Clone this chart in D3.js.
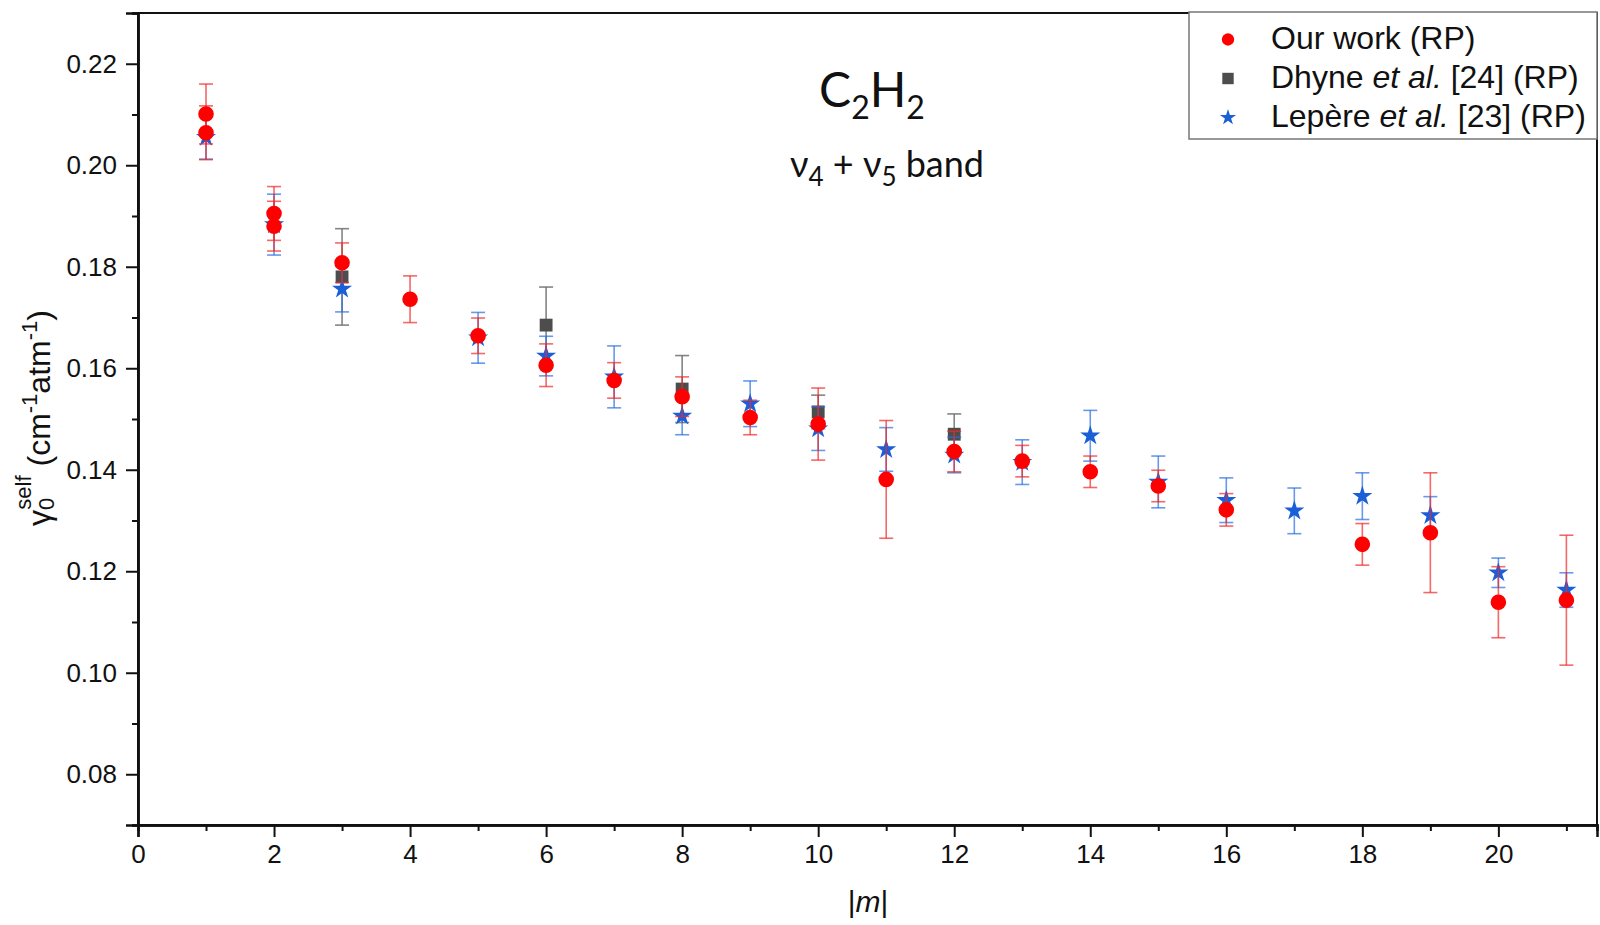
<!DOCTYPE html>
<html>
<head>
<meta charset="utf-8">
<script src="https://cdn.jsdelivr.net/npm/d3@7"></script>
<style>
  body { margin: 0; background: #fff; }
  svg { display: block; }
  .tick-label { font-family: "Liberation Sans", Arial, sans-serif; font-size: 26px; fill: #111; }
</style>
</head>
<body>
<div id="chart"></div>
<script>
// data
const mOur = [1, 1, 2, 2, 3, 4, 5, 6, 7, 8, 9, 10, 11, 12, 13, 14, 15, 16, 18, 19, 20, 21];
const gammaOur = [0.2101, 0.2064, 0.1905, 0.1880, 0.1808, 0.1736, 0.1664, 0.1606, 0.1576, 0.1544, 0.1503,
  0.1490, 0.1381, 0.1436, 0.1417, 0.1396, 0.1368, 0.1321, 0.1253, 0.1276, 0.1139, 0.1143];
const errOur = [0.0059, 0.0053, 0.0053, 0.0049, 0.0039, 0.0046, 0.0035, 0.0042, 0.0035, 0.0039, 0.0034,
  0.0071, 0.0116, 0.0040, 0.0031, 0.0031, 0.0031, 0.0032, 0.0041, 0.0118, 0.0070, 0.0128];

const mDhyne = [3, 6, 8, 10, 12];
const gammaDhyne = [0.1780, 0.1685, 0.1559, 0.1514, 0.1470];
const errDhyne = [0.0095, 0.0075, 0.0066, 0.0033, 0.0040];

const mLepere = [1, 2, 3, 5, 6, 7, 8, 9, 10, 11, 12, 13, 14, 15, 16, 17, 18, 19, 20, 21];
const gammaLepere = [0.2055, 0.1883, 0.1756, 0.1660, 0.1624, 0.1583, 0.1506, 0.1530, 0.1481, 0.1440,
  0.1429, 0.1415, 0.1467, 0.1376, 0.1340, 0.1319, 0.1348, 0.1310, 0.1197, 0.1163];
const errLepere = [0.0043, 0.0060, 0.0045, 0.0050, 0.0039, 0.0061, 0.0037, 0.0045, 0.0043, 0.0043,
  0.0035, 0.0044, 0.0050, 0.0051, 0.0044, 0.0045, 0.0046, 0.0037, 0.0029, 0.0034];

const xMajor = d3.range(0, 21, 2);
const xMinor = d3.range(1, 22, 2);
const yMajor = [0.08, 0.10, 0.12, 0.14, 0.16, 0.18, 0.20, 0.22];
const yMinor = [0.07, 0.09, 0.11, 0.13, 0.15, 0.17, 0.19, 0.21, 0.23];

const width = 1600, height = 925;
const plotL = 138, plotR = 1597, plotT = 13, plotB = 825;

let svg = d3.select('#chart').append('svg')
  .attr('width', width)
  .attr('height', height);

let x = d3.scaleLinear().domain([0, 21.45]).range([plotL, plotR]);
let y = d3.scaleLinear().domain([0.07, 0.23]).range([plotB, plotT]);

// frame
svg.append('rect')
  .attr('x', plotL).attr('y', plotT)
  .attr('width', plotR - plotL).attr('height', plotB - plotT)
  .attr('fill', 'none').attr('stroke', '#111').attr('stroke-width', 2);

// axes
let xAxis = svg.append('g').attr('transform', 'translate(0,' + plotB + ')');
xAxis.call(d3.axisBottom(x).tickValues(xMajor).tickSize(12).tickPadding(8).tickFormat(d3.format('d')));
xAxis.append('g').call(d3.axisBottom(x).tickValues(xMinor).tickSize(6).tickFormat(''));

let yAxis = svg.append('g').attr('transform', 'translate(' + plotL + ',0)');
yAxis.call(d3.axisLeft(y).tickValues(yMajor).tickSize(12).tickPadding(9).tickFormat(d3.format('.2f')));
yAxis.append('g').call(d3.axisLeft(y).tickValues(yMinor).tickSize(6).tickFormat(''));

svg.selectAll('.domain').attr('stroke', '#111').attr('stroke-width', 2.5);
svg.selectAll('.tick line').attr('stroke', '#111').attr('stroke-width', 2);
svg.selectAll('.tick text').attr('class', 'tick-label').attr('fill', '#111');

// series
function series(ms, vals, errs, opt) {
  const rows = ms.map((m, i) => ({m: m, v: vals[i], e: errs[i]}));
  let g = svg.append('g');
  let bars = g.selectAll('.eb').data(rows).enter().append('g')
    .attr('stroke', opt.bar).attr('stroke-width', 1.6).attr('fill', 'none');
  bars.append('line')
    .attr('x1', d => x(d.m)).attr('x2', d => x(d.m))
    .attr('y1', d => y(d.v + d.e)).attr('y2', d => y(d.v - d.e));
  [1, -1].forEach(function (s) {
    bars.append('line')
      .attr('x1', d => x(d.m) - 7).attr('x2', d => x(d.m) + 7)
      .attr('y1', d => y(d.v + s * d.e)).attr('y2', d => y(d.v + s * d.e));
  });
  g.selectAll('.mk').data(rows).enter().append('path')
    .attr('d', d3.symbol().type(opt.shape).size(opt.size))
    .attr('transform', d => 'translate(' + x(d.m) + ',' + y(d.v) + ')')
    .attr('fill', opt.fill);
}

series(mDhyne, gammaDhyne, errDhyne, {shape: d3.symbolSquare, size: 165, fill: '#4d4d4d', bar: 'rgba(110,110,110,0.85)'});
series(mLepere, gammaLepere, errLepere, {shape: d3.symbolStar, size: 125, fill: '#1a5fd8', bar: 'rgba(40,110,225,0.7)'});
series(mOur, gammaOur, errOur, {shape: d3.symbolCircle, size: Math.PI * 7.8 * 7.8, fill: '#ff0000', bar: 'rgba(240,40,40,0.7)'});

// axis titles
svg.append('text')
  .attr('x', 868).attr('y', 912)
  .attr('text-anchor', 'middle')
  .style('font-family', '"Liberation Sans", Arial, sans-serif')
  .style('font-size', '30px')
  .attr('fill', '#111')
  .call(t => {
    t.append('tspan').text('|');
    t.append('tspan').style('font-style', 'italic').text('m');
    t.append('tspan').text('|');
  });

let yTitle = svg.append('text')
  .attr('transform', 'translate(50,418) rotate(-90)')
  .attr('text-anchor', 'middle')
  .style('font-family', '"Liberation Sans", Arial, sans-serif')
  .style('font-size', '32px')
  .attr('fill', '#111');
yTitle.append('tspan').text('γ');
yTitle.append('tspan').attr('dy', 4).style('font-size', '22px').text('0');
yTitle.append('tspan').attr('dx', -12).attr('dy', -23).style('font-size', '22px').text('self');
yTitle.append('tspan').attr('dy', 19).text(' (cm');
yTitle.append('tspan').attr('dy', -13).style('font-size', '22px').text('-1');
yTitle.append('tspan').attr('dy', 13).text('atm');
yTitle.append('tspan').attr('dy', -13).style('font-size', '22px').text('-1');
yTitle.append('tspan').attr('dy', 13).text(')');

// in-plot labels
let mol = svg.append('text')
  .attr('x', 872).attr('y', 107)
  .attr('text-anchor', 'middle')
  .style('font-family', 'Lato, "Open Sans", sans-serif')
  .style('font-size', '48px')
  .attr('fill', '#111');
mol.append('tspan').text('C');
mol.append('tspan').attr('dy', 12).style('font-size', '32px').text('2');
mol.append('tspan').attr('dy', -12).text('H');
mol.append('tspan').attr('dy', 12).style('font-size', '32px').text('2');

let band = svg.append('text')
  .attr('x', 887).attr('y', 177)
  .attr('text-anchor', 'middle')
  .style('font-family', 'Lato, "Open Sans", sans-serif')
  .style('font-size', '36px')
  .attr('fill', '#111');
band.append('tspan').text('ν');
band.append('tspan').attr('dy', 9).style('font-size', '26px').text('4');
band.append('tspan').attr('dy', -9).text(' + ν');
band.append('tspan').attr('dy', 9).style('font-size', '26px').text('5');
band.append('tspan').attr('dy', -9).text(' band');

// legend
const legendItems = [
  {shape: d3.symbolCircle, size: 120, fill: '#ff0000', parts: [['Our work (RP)', 'normal']]},
  {shape: d3.symbolSquare, size: 130, fill: '#4d4d4d', parts: [['Dhyne ', 'normal'], ['et al.', 'italic'], [' [24] (RP)', 'normal']]},
  {shape: d3.symbolStar, size: 80, fill: '#1a5fd8', parts: [['Lepère ', 'normal'], ['et al.', 'italic'], [' [23] (RP)', 'normal']]}
];
let legend = svg.append('g');
legend.append('rect')
  .attr('x', 1189).attr('y', 12).attr('width', 408).attr('height', 127)
  .attr('fill', '#fff').attr('stroke', '#777').attr('stroke-width', 1.5);
let li = legend.selectAll('.li').data(legendItems).enter().append('g')
  .attr('transform', (d, i) => 'translate(0,' + (48.5 + i * 39) + ')');
li.append('path')
  .attr('d', d => d3.symbol().type(d.shape).size(d.size)())
  .attr('transform', 'translate(1228,-9)')
  .attr('fill', d => d.fill);
li.append('text')
  .attr('x', 1271).attr('y', 0)
  .style('font-family', '"Liberation Sans", Arial, sans-serif')
  .style('font-size', '32px')
  .attr('fill', '#111')
  .each(function (d) {
    let t = d3.select(this);
    d.parts.forEach(p => t.append('tspan').style('font-style', p[1]).text(p[0]));
  });
</script>
</body>
</html>
